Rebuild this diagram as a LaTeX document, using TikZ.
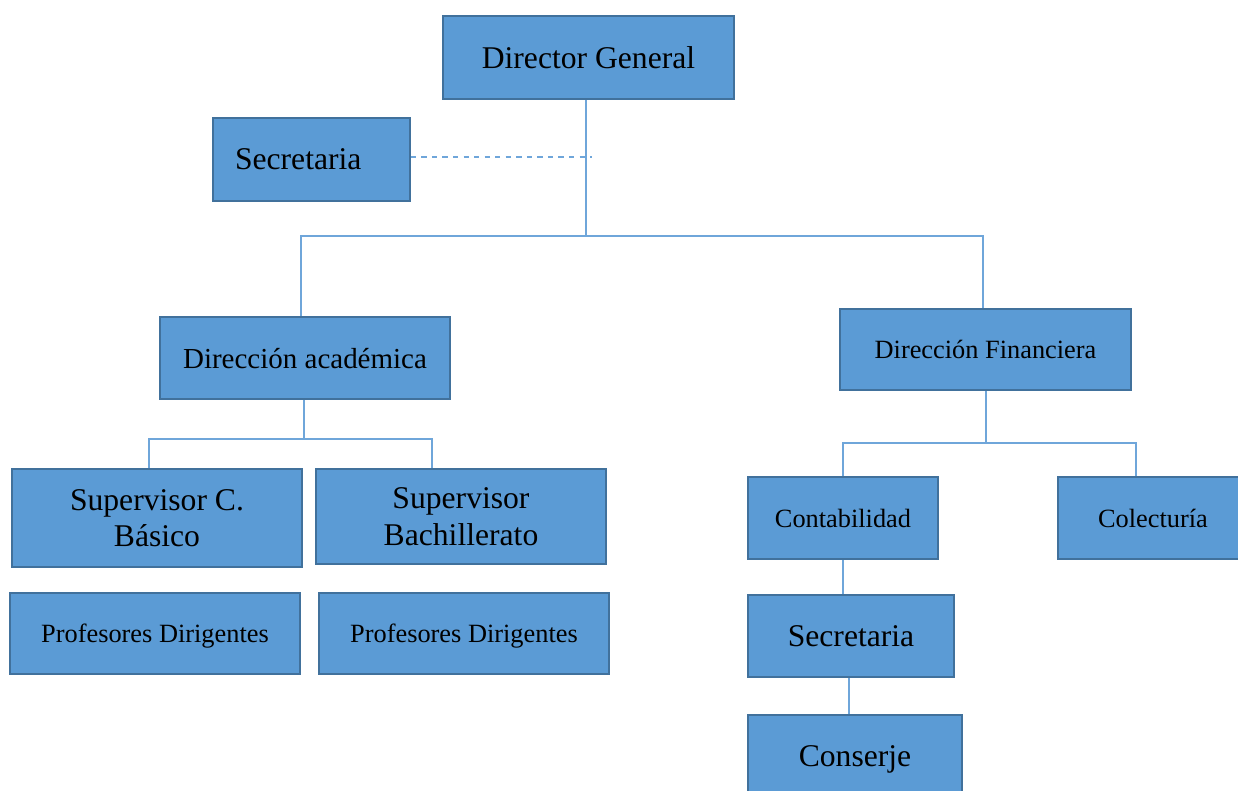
\documentclass[tikz,border=0pt]{standalone}
\usepackage{fontspec}
\setmainfont{Liberation Serif}
\usepackage{tikz}
\usetikzlibrary{positioning, calc}
\definecolor{BoxBlue}{HTML}{5B9BD5}
\definecolor{EdgeBlue}{HTML}{41719C}
\definecolor{LinkBlue}{HTML}{6FA6DA}
\newcommand{\bigtxt}{\fontsize{18}{21}\selectfont}
\newcommand{\smalltxt}{\fontsize{15}{18}\selectfont}
\tikzset{
    orgbox/.style={rectangle, fill=BoxBlue, draw=EdgeBlue, line width=1pt,
                   text=black, align=center, inner sep=0pt, text depth=0pt},
    link/.style={draw=LinkBlue, line width=0.8pt}
}

\begin{document}
\begin{tikzpicture}[x=0.02cm, y=-0.02cm]
    \useasboundingbox (0,0) rectangle (1238,791);

    % Top level
    \node[orgbox, minimum width=5.82cm, minimum height=1.66cm, font=\bigtxt]
        (dg) at (588.5,57.5) {Director General};
    \node[orgbox, minimum width=3.94cm, minimum height=1.66cm, font=\bigtxt,
          text width=3.06cm, align=left, inner xsep=0.44cm]
        (sec) at (311.5,159.5) {Secretaria};

    % Directions
    \node[orgbox, minimum width=5.8cm, minimum height=1.64cm,
          font=\fontsize{16.5}{19}\selectfont]
        (acad) at (305,358) {Dirección académica};
    \node[orgbox, minimum width=5.82cm, minimum height=1.62cm, font=\smalltxt]
        (fin) at (985.5,349.5) {Dirección Financiera};

    % Academic branch
    \node[orgbox, minimum width=5.8cm, minimum height=1.96cm, font=\bigtxt]
        (supb) at (157,518) {Supervisor C.\\Básico};
    \node[orgbox, minimum width=5.8cm, minimum height=1.9cm, font=\bigtxt]
        (supbach) at (461,516.5) {Supervisor\\Bachillerato};
    \node[orgbox, minimum width=5.8cm, minimum height=1.62cm, font=\smalltxt]
        (prof1) at (155,633.5) {Profesores Dirigentes};
    \node[orgbox, minimum width=5.8cm, minimum height=1.62cm, font=\smalltxt]
        (prof2) at (464,633.5) {Profesores Dirigentes};

    % Financial branch
    \node[orgbox, minimum width=3.8cm, minimum height=1.64cm, font=\smalltxt]
        (cont) at (843,518) {Contabilidad};
    \node[orgbox, minimum width=3.8cm, minimum height=1.64cm, font=\smalltxt]
        (colec) at (1153,518) {Colecturía};
    \node[orgbox, minimum width=4.12cm, minimum height=1.64cm, font=\bigtxt]
        (sec2) at (851,636) {Secretaria};
    \node[orgbox, minimum width=4.28cm, minimum height=1.64cm, font=\bigtxt]
        (cons) at (855,756) {Conserje};

    % Junctions
    \coordinate (bus1) at (586,236);
    \coordinate (bus2) at (304,439);
    \coordinate (bus3) at (986,443);
    \coordinate (dashend) at (592,157);

    % Lines
    \draw[link] (dg.south -| bus1) -- (bus1);
    \draw[link, dashed] (sec.east |- dashend) -- (dashend);
    \draw[link] ([xshift=-0.08cm]acad.north) |- (bus1) -| ([xshift=-0.05cm]fin.north);
    \draw[link] (acad.south -| bus2) -- (bus2);
    \draw[link] ([xshift=-0.16cm]supb.north) |- (bus2) -| ([xshift=-0.58cm]supbach.north);
    \draw[link] (fin.south -| bus3) -- (bus3);
    \draw[link] (cont.north) |- (bus3) -| ([xshift=-0.34cm]colec.north);
    \draw[link] (cont.south) -- (cont.south |- sec2.north);
    \draw[link] ([xshift=-0.04cm]sec2.south) -- ([xshift=-0.04cm]sec2.south |- cons.north);
\end{tikzpicture}
\end{document}
